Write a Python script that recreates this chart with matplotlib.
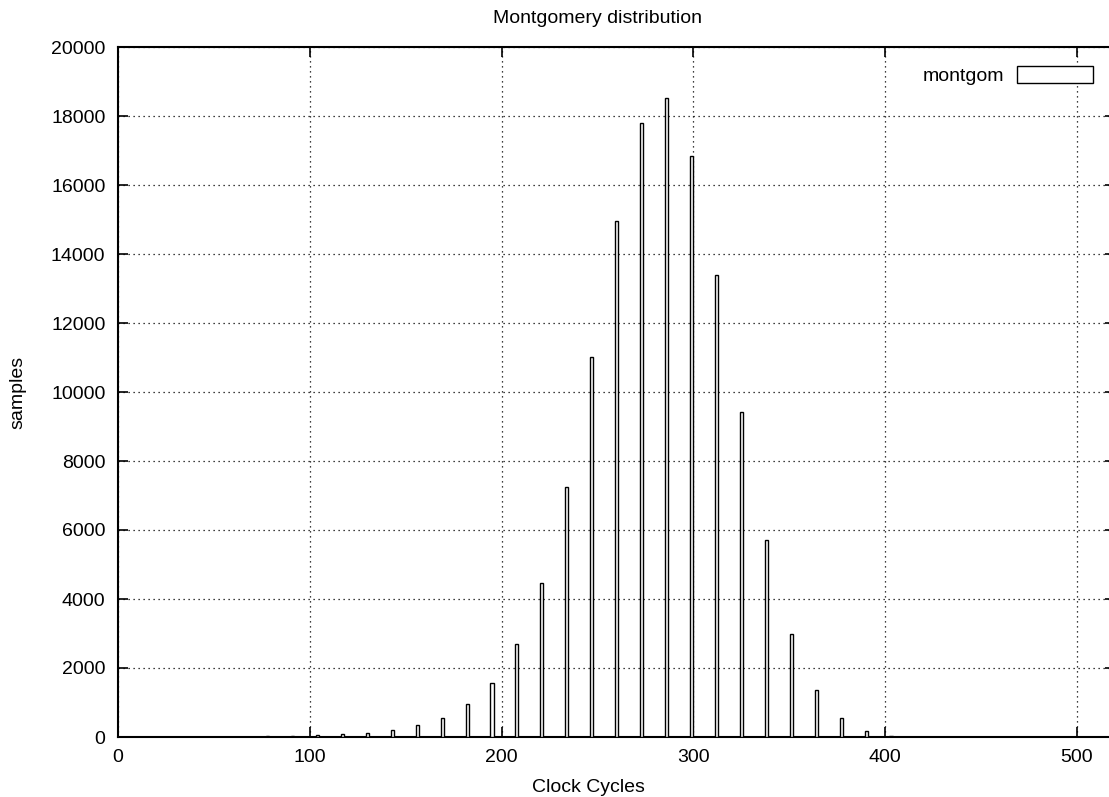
import matplotlib
matplotlib.use("Agg")
import matplotlib.pyplot as plt

# bin start (clock cycles) and number of samples in each bin
cycles = [52, 65, 78, 91, 104, 117, 130, 143, 156, 169, 182, 195, 208, 221,
          234, 247, 260, 273, 286, 299, 312, 325, 338, 351, 364, 377, 390, 403]
samples = [5, 10, 15, 25, 60, 90, 125, 210, 340, 560, 950, 1570, 2700, 4460,
           7255, 11010, 14955, 17805, 18530, 16850, 13380, 9410, 5710, 2985,
           1370, 550, 165, 30]

x_ticks = [0, 100, 200, 300, 400, 500]
y_ticks = list(range(0, 20001, 2000))

plt.rcParams['font.family'] = ['Liberation Sans', 'DejaVu Sans']
fs = 14

fig = plt.figure(figsize=(11.09, 7.97), dpi=100)
ax = fig.add_axes([118 / 1109, 60 / 797, 997.4 / 1109, 690 / 797])

ax.bar(cycles, samples, width=1.6, facecolor="white", edgecolor="black",
       linewidth=1.0, label="montgom", zorder=3)

ax.set_xlim(0, 520)
ax.set_ylim(0, 20000)
ax.set_xticks(x_ticks)
ax.set_yticks(y_ticks)
ax.tick_params(direction="in", length=7, width=1.2, top=True, right=True,
               labelsize=fs, pad=9)
ax.grid(True, linestyle=(0, (1, 3)), color="black", linewidth=0.9)
ax.set_axisbelow(True)
for s in ax.spines.values():
    s.set_linewidth(1.5)

ax.set_title("Montgomery distribution", fontsize=fs, pad=17, x=0.481)
ax.set_xlabel("Clock Cycles", fontsize=fs, labelpad=9, x=0.472)
ax.set_ylabel("samples", fontsize=fs, labelpad=18)

leg = ax.legend(loc="upper right", bbox_to_anchor=(1093 / 1109, 1 - 66 / 797),
                bbox_transform=fig.transFigure, frameon=False, markerfirst=False,
                handlelength=3.9, handleheight=1.0, handletextpad=0.65,
                borderpad=0, borderaxespad=0, fontsize=fs)

fig.savefig("out.png", dpi=100)
